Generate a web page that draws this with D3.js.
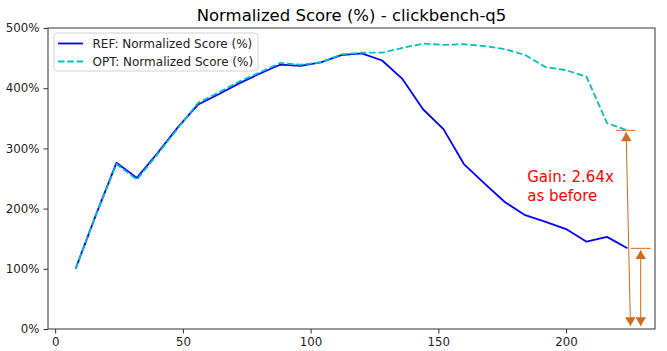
<!DOCTYPE html>
<html>
<head>
<meta charset="utf-8">
<script src="https://cdn.jsdelivr.net/npm/d3@7"></script>
<style>
  html, body { margin: 0; padding: 0; background: #fff; }
  svg { display: block; font-family: "DejaVu Sans", sans-serif; }
</style>
</head>
<body>
<div id="chart"></div>
<script>
const STEPS = [8, 16, 24, 32, 40, 48, 56, 64, 72, 80, 88, 96, 104, 112, 120, 128, 136, 144, 152, 160, 168, 176, 184, 192, 200, 208, 216, 224]
const REF = [100, 190, 276, 251, 292, 335, 373, 390, 408, 424, 439, 437, 443, 455, 458, 446, 415, 365, 332, 274, 242, 211, 189, 178, 166, 145, 153, 134]
const OPT = [100, 190, 274, 248, 290, 333, 376, 393, 411, 426, 442, 439, 443, 456, 459, 459, 467, 474, 472, 473, 470, 465, 455, 435, 430, 419, 342, 330]
const X_TICKS = [0, 50, 100, 150, 200]
const Y_TICKS = [0, 100, 200, 300, 400, 500]
const TITLE = 'Normalized Score (%) - clickbench-q5'
const LEGEND = ['REF: Normalized Score (%)', 'OPT: Normalized Score (%)']
const GAIN_TEXT = ['Gain: 2.64x', 'as before']

const W = 667, H = 351
const MARGIN = { top: 28, right: 12, bottom: 22, left: 48 }
const innerW = W - MARGIN.left - MARGIN.right
const innerH = H - MARGIN.top - MARGIN.bottom
const ARROW = '#d2691e'

const svg = d3.select('#chart').append('svg')
  .attr('width', W).attr('height', H)
  .attr('viewBox', `0 0 ${W} ${H}`)

const x = d3.scaleLinear().domain([-2.8, 234.8]).range([0, innerW])
const y = d3.scaleLinear().domain([0, 500]).range([innerH, 0])

const g = svg.append('g').attr('transform', `translate(${MARGIN.left},${MARGIN.top})`)

svg.append('text')
  .attr('x', MARGIN.left + innerW / 2).attr('y', 21)
  .attr('text-anchor', 'middle')
  .attr('font-size', 16.5).attr('fill', '#000')
  .text(TITLE)

// lines: REF solid blue, OPT dashed cyan on top
const line = vals => d3.line()
  .x((_, i) => x(STEPS[i]))
  .y(d => y(d))(vals)

g.append('path')
  .attr('d', line(REF))
  .attr('fill', 'none').attr('stroke', '#0000ff')
  .attr('stroke-width', 1.8).attr('stroke-linejoin', 'round')

g.append('path')
  .attr('d', line(OPT))
  .attr('fill', 'none').attr('stroke', '#00bfbf')
  .attr('stroke-width', 1.8).attr('stroke-dasharray', '6.5,2.8')

// gain annotation
const defs = svg.append('defs')
defs.append('marker')
  .attr('id', 'tri').attr('viewBox', '0 0 10 12')
  .attr('refX', 10).attr('refY', 6)
  .attr('markerWidth', 12).attr('markerHeight', 10.5)
  .attr('markerUnits', 'userSpaceOnUse')
  .attr('orient', 'auto-start-reverse')
  .append('path').attr('d', 'M0,0 L10,6 L0,12 Z').attr('fill', ARROW)

const optLast = OPT[OPT.length - 1]
const refLast = REF[REF.length - 1]

const ann = g.append('g')
ann.append('line')
  .attr('x1', x(219.6)).attr('x2', x(227.2))
  .attr('y1', y(optLast)).attr('y2', y(optLast))
  .attr('stroke', ARROW).attr('stroke-width', 1)
ann.append('line')
  .attr('x1', x(225.3)).attr('x2', x(233.1))
  .attr('y1', y(refLast)).attr('y2', y(refLast))
  .attr('stroke', ARROW).attr('stroke-width', 1)
ann.append('line')
  .attr('x1', x(223.5)).attr('y1', y(optLast) + 2)
  .attr('x2', x(225.2)).attr('y2', y(0) - 3)
  .attr('stroke', ARROW).attr('stroke-width', 1)
  .attr('marker-start', 'url(#tri)').attr('marker-end', 'url(#tri)')
ann.append('line')
  .attr('x1', x(229.2)).attr('y1', y(refLast) + 2)
  .attr('x2', x(229.2)).attr('y2', y(0) - 3)
  .attr('stroke', ARROW).attr('stroke-width', 1)
  .attr('marker-start', 'url(#tri)').attr('marker-end', 'url(#tri)')

ann.append('text')
  .attr('x', x(184.8)).attr('y', y(244))
  .attr('font-size', 15).attr('fill', '#ff0000')
  .selectAll('tspan').data(GAIN_TEXT).join('tspan')
  .attr('x', x(184.8)).attr('dy', (_, i) => i ? 18.5 : 0)
  .text(d => d)

// axes
const xAxis = d3.axisBottom(x).tickValues(X_TICKS).tickSize(4.5).tickPadding(4)
g.append('g').attr('transform', `translate(0,${innerH})`).call(xAxis)
  .call(a => a.select('.domain').remove())
const yAxis = d3.axisLeft(y).tickValues(Y_TICKS).tickFormat(d => d + '%').tickSize(4.5).tickPadding(4)
g.append('g').call(yAxis)
  .call(a => a.select('.domain').remove())
g.selectAll('.tick text').attr('font-size', 11.8).attr('fill', '#222').attr('font-family', '"DejaVu Sans", sans-serif')
g.selectAll('.tick line').attr('stroke', '#333')

g.append('rect')
  .attr('width', innerW).attr('height', innerH)
  .attr('fill', 'none').attr('stroke', '#333').attr('stroke-width', 1)

// legend
const lg = g.append('g').attr('transform', 'translate(6,5)')
lg.append('rect')
  .attr('width', 204).attr('height', 38).attr('rx', 3)
  .attr('fill', '#fff').attr('fill-opacity', 0.8)
  .attr('stroke', '#d0d0d0')
const items = lg.selectAll('g.item').data(LEGEND).join('g')
  .attr('class', 'item')
  .attr('transform', (_, i) => `translate(0,${10.5 + i * 18})`)
items.append('line')
  .attr('x1', 4).attr('x2', 29)
  .attr('stroke', (_, i) => i ? '#00bfbf' : '#0000ff')
  .attr('stroke-width', 1.8)
  .attr('stroke-dasharray', (_, i) => i ? '6.5,2.8' : null)
items.append('text')
  .attr('x', 38.5).attr('y', 4.3)
  .attr('font-size', 12).attr('fill', '#222')
  .text(d => d)
</script>
</body>
</html>
